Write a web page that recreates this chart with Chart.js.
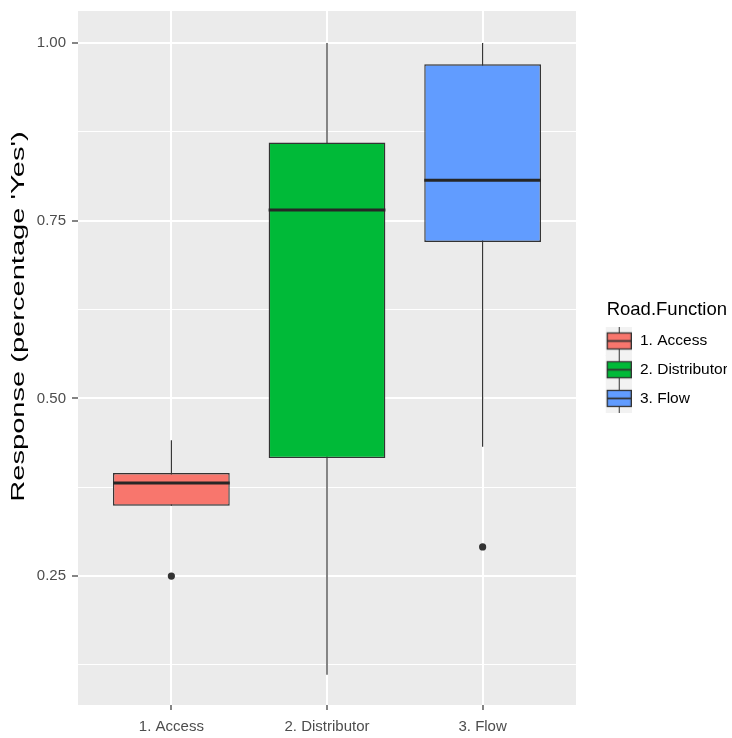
<!DOCTYPE html>
<html>
<head>
<meta charset="utf-8">
<script src="https://cdn.jsdelivr.net/npm/chart.js@4.4.1/dist/chart.umd.min.js"></script>
<style>
  html, body { margin: 0; padding: 0; background: #ffffff; }
  canvas { display: block; }
</style>
</head>
<body>
<canvas id="c" width="732" height="738"></canvas>
<script>
// ---------------- data ----------------
const categories   = ['1. Access', '2. Distributor', '3. Flow'];
const whiskerLow   = [0.349, 0.111, 0.432];
const quartile1    = [0.349, 0.416, 0.720];
const medians      = [0.381, 0.765, 0.807];
const quartile3    = [0.395, 0.860, 0.970];
const whiskerHigh  = [0.441, 1.000, 1.000];
const outlierCat   = [1, 3];            // category position (1-based)
const outlierValue = [0.250, 0.291];
const yMajorTicks  = [0.25, 0.50, 0.75, 1.00];
const yMajorLabels = ['0.25', '0.50', '0.75', '1.00'];
const yMinorTicks  = [0.125, 0.375, 0.625, 0.875];
const fillColors   = ['#F8766D', '#00BA38', '#619CFF'];
const yTitle       = "Response (percentage 'Yes')";
const legendTitle  = 'Road.Function';

// ---------------- styles ----------------
const SANS = "'Liberation Sans', Arial, sans-serif";
const INK = '#333333';

function legendGlyph(color) {
  const cv = document.createElement('canvas');
  cv.width = 42; cv.height = 29;
  const g = cv.getContext('2d');
  g.fillStyle = '#F2F2F2';
  g.fillRect(16, 0, 26, 29);
  g.strokeStyle = INK; g.lineWidth = 1;
  g.beginPath(); g.moveTo(29.5, 0); g.lineTo(29.5, 29); g.stroke();
  g.fillStyle = color;
  g.fillRect(17.5, 6.5, 24, 16);
  g.lineWidth = 1.3;
  g.strokeRect(17.5, 6.5, 24, 16);
  g.lineWidth = 1.8;
  g.beginPath(); g.moveTo(17.5, 14.5); g.lineTo(41.5, 14.5); g.stroke();
  return cv;
}

const panelPlugin = {
  id: 'panel',
  beforeDraw(chart) {
    const {ctx, chartArea: a} = chart;
    ctx.save();
    ctx.fillStyle = '#ffffff';
    ctx.fillRect(0, 0, chart.width, chart.height);
    ctx.fillStyle = '#EBEBEB';
    ctx.fillRect(a.left, a.top, a.right - a.left, a.bottom - a.top);
    ctx.restore();
  }
};

const whiskerPlugin = {
  id: 'whiskers',
  beforeDatasetsDraw(chart) {
    const {ctx} = chart;
    const ys = chart.scales.y;
    const bars = chart.getDatasetMeta(0).data;
    ctx.save();
    ctx.strokeStyle = INK;
    ctx.lineWidth = 1.2;
    bars.forEach((bar, i) => {
      ctx.beginPath();
      ctx.moveTo(bar.x, ys.getPixelForValue(whiskerLow[i]));
      ctx.lineTo(bar.x, ys.getPixelForValue(whiskerHigh[i]));
      ctx.stroke();
    });
    ctx.restore();
  },
  afterDatasetsDraw(chart) {
    const {ctx} = chart;
    const ys = chart.scales.y;
    const bars = chart.getDatasetMeta(0).data;
    ctx.save();
    ctx.strokeStyle = '#262626';
    ctx.lineWidth = 3;
    bars.forEach((bar, i) => {
      const y = ys.getPixelForValue(medians[i]);
      ctx.beginPath();
      ctx.moveTo(bar.x - bar.width / 2, y);
      ctx.lineTo(bar.x + bar.width / 2, y);
      ctx.stroke();
    });
    ctx.restore();
  }
};

const yTitlePlugin = {
  id: 'yTitle',
  afterDraw(chart) {
    const {ctx} = chart;
    ctx.save();
    ctx.translate(19, 316.5);
    ctx.rotate(-Math.PI / 2);
    ctx.scale(1.53, 1);
    ctx.font = '19px ' + SANS;
    ctx.fillStyle = '#000000';
    ctx.textAlign = 'center';
    ctx.textBaseline = 'middle';
    ctx.fillText(yTitle, 0, 0);
    ctx.restore();
  }
};

const isMajor = v => yMajorTicks.some(t => Math.abs(t - v) < 1e-9);

new Chart(document.getElementById('c'), {
  type: 'bar',
  data: {
    datasets: [
      {
        type: 'bar',
        label: 'box',
        data: categories.map((c, i) => ({x: i + 1, y: [quartile1[i], quartile3[i]]})),
        backgroundColor: fillColors,
        borderColor: INK,
        borderWidth: 1.4,
        borderSkipped: false,
        barPercentage: 0.75,
        categoryPercentage: 1,
        grouped: false
      },
      {
        type: 'scatter',
        label: 'outliers',
        data: outlierCat.map((c, i) => ({x: c, y: outlierValue[i]})),
        pointRadius: 3.6,
        pointBackgroundColor: INK,
        pointBorderWidth: 0,
        pointHoverRadius: 3.6
      }
    ]
  },
  options: {
    responsive: false,
    devicePixelRatio: 1,
    animation: false,
    events: [],
    layout: { padding: { top: 11, right: 5, bottom: 0, left: 0 } },
    scales: {
      x: {
        type: 'linear',
        offset: false,
        min: 0.4,
        max: 3.6,
        afterBuildTicks: s => { s.ticks = categories.map((c, i) => ({value: i + 1})); },
        afterFit: s => { s.height = 33; s.paddingLeft = 0; s.paddingRight = 0; },
        ticks: {
          autoSkip: false,
          maxRotation: 0,
          padding: 8,
          color: '#4D4D4D',
          font: { family: SANS, size: 15 },
          callback: v => categories[Math.round(v) - 1]
        },
        grid: { offset: false, color: '#FFFFFF', lineWidth: 2, tickLength: 5, tickColor: INK, tickWidth: 1.2 },
        border: { display: false }
      },
      y: {
        type: 'linear',
        min: 0.0686,
        max: 1.045,
        afterBuildTicks: s => {
          s.ticks = yMajorTicks.concat(yMinorTicks).sort((a, b) => a - b).map(v => ({value: v}));
        },
        afterFit: s => { s.width = 78; s.paddingTop = 0; s.paddingBottom = 0; },
        ticks: {
          padding: 6,
          color: '#4D4D4D',
          font: { family: SANS, size: 15 },
          callback: v => { const k = yMajorTicks.findIndex(t => Math.abs(t - v) < 1e-9); return k >= 0 ? yMajorLabels[k] : ''; }
        },
        grid: {
          color: '#FFFFFF',
          lineWidth: c => isMajor(c.tick.value) ? 2 : 1,
          tickLength: 6,
          tickWidth: 1.2,
          tickColor: c => isMajor(c.tick.value) ? INK : 'rgba(0,0,0,0)'
        },
        border: { display: false }
      }
    },
    plugins: {
      tooltip: { enabled: false },
      legend: {
        position: 'right',
        fullSize: false,
        maxWidth: 151,
        onClick: null,
        title: {
          display: true,
          text: legendTitle,
          position: 'end',
          color: '#000000',
          font: { family: SANS, size: 18.5, lineHeight: 1 },
          padding: { top: 4, bottom: 0.9 }
        },
        labels: {
          usePointStyle: true,
          pointStyleWidth: 43,
          boxHeight: 15.5,
          padding: 13.2,
          color: '#1A1A1A',
          font: { family: SANS, size: 15.5 },
          generateLabels: () => categories.map((c, i) => ({
            text: c,
            pointStyle: legendGlyph(fillColors[i]),
            fillStyle: fillColors[i],
            strokeStyle: INK,
            lineWidth: 0,
            hidden: false,
            datasetIndex: 0,
            index: i
          }))
        }
      }
    }
  },
  plugins: [panelPlugin, whiskerPlugin, yTitlePlugin]
});
</script>
</body>
</html>
